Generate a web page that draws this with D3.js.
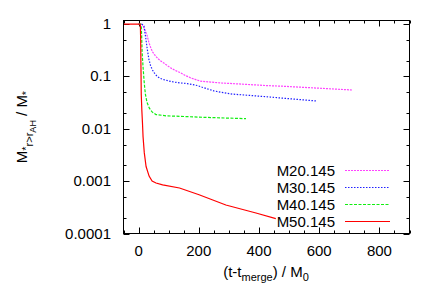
<!DOCTYPE html>
<html>
<head>
<meta charset="utf-8">
<script src="https://cdn.jsdelivr.net/npm/d3@7"></script>
<style>
  body { margin: 0; background: #fff; }
  text { font-family: "Liberation Sans", Arial, sans-serif; fill: #000; }
</style>
</head>
<body>
<div id="container"></div>
<script>
// series data: time (t - t_merge)/M0 and fraction
var m20T = [0, 10, 12, 17, 23, 29, 34.5, 40, 45.5, 53, 62, 72, 84, 95, 106, 122, 140, 156, 173, 190, 206, 240, 272, 312, 423, 478, 590, 711]
var m20V = [1, 1, 0.98, 0.88, 0.73, 0.59, 0.44, 0.36, 0.3, 0.26, 0.227, 0.2, 0.18, 0.162, 0.146, 0.13, 0.117, 0.104, 0.094, 0.087, 0.081, 0.078, 0.075, 0.073, 0.067, 0.065, 0.06, 0.055]

var m30T = [0, 10, 14, 18, 23, 29, 34.5, 40, 45.5, 53, 62, 72, 84, 100, 117, 140, 162, 180, 195, 212, 228, 250, 272, 312, 423, 589]
var m30V = [1, 1, 0.97, 0.91, 0.59, 0.33, 0.21, 0.16, 0.135, 0.115, 0.1, 0.092, 0.087, 0.082, 0.078, 0.075, 0.073, 0.07, 0.067, 0.062, 0.058, 0.053, 0.05, 0.046, 0.041, 0.034]

var m40T = [0, 7, 9, 10.5, 12, 15, 18, 20.5, 23, 28, 35.5, 45, 58, 91, 224, 357]
var m40V = [1, 1, 0.91, 0.55, 0.28, 0.15, 0.087, 0.06, 0.045, 0.032, 0.025, 0.021, 0.0187, 0.0177, 0.0165, 0.0156]

var m50T = [-50, 0, 5, 6, 7, 8, 9, 11, 13, 15, 19, 25, 35, 45, 58, 80, 136, 201, 290, 390, 456]
var m50V = [1, 1, 1, 0.95, 0.5, 0.15, 0.045, 0.022, 0.013, 0.007, 0.0035, 0.0019, 0.00125, 0.001, 0.00092, 0.00085, 0.00074, 0.00055, 0.00035, 0.000246, 0.000192]

var seriesNames = ["M20.145", "M30.145", "M40.145", "M50.145"]
var xTicks = [0, 200, 400, 600, 800]
var yTicks = [1, 0.1, 0.01, 0.001, 0.0001]
var yTickLabels = ["1", "0.1", "0.01", "0.001", "0.0001"];

(function(d3) {
  var series = [
    {name: seriesNames[0], t: m20T, v: m20V, colour: "#ff44ff", dash: "2,1"},
    {name: seriesNames[1], t: m30T, v: m30V, colour: "#2020ff", dash: "1.5,1.5"},
    {name: seriesNames[2], t: m40T, v: m40V, colour: "#11ee11", dash: "3,1.5"},
    {name: seriesNames[3], t: m50T, v: m50V, colour: "#ff0000", dash: null}
  ]

  var width = 436, height = 305
  var left = 123.5, right = 409.5, plotTop = 20.5, bottom = 233.5

  var svg = d3.select("#container").append("svg")
      .attr("width", width)
      .attr("height", height)

  var x = d3.scaleLinear().domain([-50, 900]).range([left, right])
  var y = d3.scaleLog().domain([0.0001, 1.17]).range([bottom, plotTop])

  svg.append("defs").append("clipPath").attr("id", "plotclip")
    .append("rect")
      .attr("x", left).attr("y", plotTop)
      .attr("width", right - left).attr("height", bottom - plotTop)

  // ticks on all four sides, pointing inward
  var axes = svg.append("g").attr("stroke", "#000").attr("stroke-width", 1)

  d3.range(-50, 901, 50).forEach(function(t) {
    var len = xTicks.indexOf(t) >= 0 ? 6 : 3
    var px = Math.round(x(t)) + 0.5
    axes.append("line").attr("x1", px).attr("x2", px).attr("y1", bottom).attr("y2", bottom - len)
    axes.append("line").attr("x1", px).attr("x2", px).attr("y1", plotTop).attr("y2", plotTop + len)
  })

  var minorY = []
  yTicks.forEach(function(d) {
    if (d < 1) { minorY.push(d * 2); minorY.push(d * 5) }
  })
  yTicks.concat(minorY).forEach(function(d) {
    var len = yTicks.indexOf(d) >= 0 ? 6 : 3
    var py = Math.round(y(d)) + 0.5
    axes.append("line").attr("x1", left).attr("x2", left + len).attr("y1", py).attr("y2", py)
    axes.append("line").attr("x1", right).attr("x2", right - len).attr("y1", py).attr("y2", py)
  })

  svg.selectAll(".xlab")
    .data(xTicks)
    .enter().append("text")
      .attr("x", function(d) { return x(d) })
      .attr("y", 256)
      .attr("text-anchor", "middle")
      .attr("font-size", "15px")
      .text(function(d) { return d })

  svg.selectAll(".ylab")
    .data(yTicks)
    .enter().append("text")
      .attr("x", 111)
      .attr("y", function(d) { return y(d) + 5 })
      .attr("text-anchor", "end")
      .attr("font-size", "15px")
      .text(function(d, i) { return yTickLabels[i] })

  // curves
  var line = d3.line()
      .x(function(d) { return x(d[0]) })
      .y(function(d) { return y(d[1]) })

  var curves = svg.append("g").attr("clip-path", "url(#plotclip)")

  series.forEach(function(s) {
    curves.append("path")
        .datum(d3.zip(s.t, s.v))
        .attr("fill", "none")
        .attr("stroke", s.colour)
        .attr("stroke-width", 1.2)
        .attr("stroke-dasharray", s.dash)
        .attr("d", line)
  })

  // legend
  var legend = svg.append("g")
  series.forEach(function(s, i) {
    var ly = 170.5 + i * 17
    legend.append("text")
        .attr("x", 335)
        .attr("y", ly + 5.5)
        .attr("text-anchor", "end")
        .attr("font-size", "15px")
        .text(s.name)
    legend.append("line")
        .attr("x1", 345).attr("x2", 390)
        .attr("y1", ly).attr("y2", ly)
        .attr("stroke", s.colour)
        .attr("stroke-width", 1.2)
        .attr("stroke-dasharray", s.dash)
  })

  // frame
  svg.append("rect")
      .attr("x", left).attr("y", plotTop)
      .attr("width", right - left).attr("height", bottom - plotTop)
      .attr("fill", "none")
      .attr("stroke", "#000")
      .attr("stroke-width", 1)

  // axis titles
  var xt = svg.append("text")
      .attr("x", 266)
      .attr("y", 277)
      .attr("text-anchor", "middle")
      .attr("font-size", "15px")
  xt.append("tspan").text("(t-t")
  xt.append("tspan").attr("dy", 4).attr("font-size", "11px").text("merge")
  xt.append("tspan").attr("dy", -4).text(") / M")
  xt.append("tspan").attr("dy", 4).attr("font-size", "11px").text("0")

  var yt = svg.append("text")
      .attr("transform", "translate(27,127) rotate(-90)")
      .attr("text-anchor", "middle")
      .attr("font-size", "15px")
  yt.append("tspan").text("M")
  yt.append("tspan").attr("dy", 3).attr("font-size", "11px").text("*")
  yt.append("tspan").attr("dy", 3).attr("font-size", "11px").text("r>r")
  yt.append("tspan").attr("dy", 3).attr("font-size", "9px").text("AH")
  yt.append("tspan").attr("dy", -9).text(" / M")
  yt.append("tspan").attr("dy", 3).attr("font-size", "11px").text("*")
})(this.d3)
</script>
</body>
</html>
